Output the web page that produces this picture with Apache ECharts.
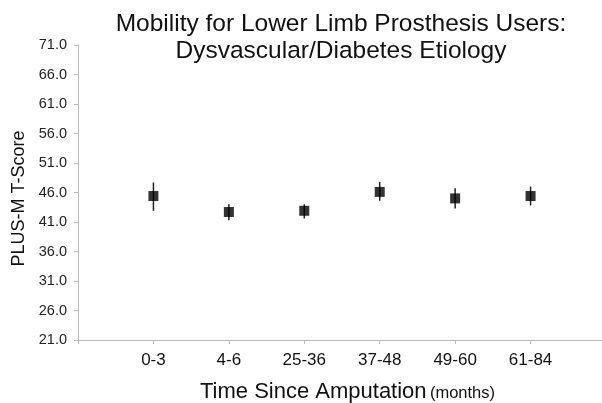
<!DOCTYPE html>
<html lang="en">
<head>
    <meta charset="UTF-8">
    <title>PLUS-M Mobility</title>
    <script src="https://cdn.jsdelivr.net/npm/echarts@6/dist/echarts.min.js"></script>
    <style>
        html, body { margin: 0; padding: 0; background: #fff; }
    </style>
</head>
<body>
<div id="chart1" style="width: 602px;height:403px;"></div>
<script type="text/javascript">
    // time since amputation groups (months)
    var categories = ['0-3', '4-6', '25-36', '37-48', '49-60', '61-84'];
    // mean T-scores and error bar ends
    var means = [45.4, 42.7, 42.9, 46.1, 45.0, 45.4];
    var lows = [42.9, 41.3, 41.6, 44.6, 43.3, 43.8];
    var highs = [47.7, 44.0, 44.0, 47.8, 46.7, 47.0];

    var font = 'Liberation Sans, Arial, sans-serif';
    var chart1 = echarts.init(document.getElementById('chart1'));

    var pointData = [];
    var barData = [];
    for (var i = 0; i < categories.length; i++) {
        pointData.push([i + 1, means[i]]);
        barData.push([i + 1, lows[i], highs[i]]);
    }

    option = {
        backgroundColor: '#fff',
        animation: false,
        title: {
            text: 'Mobility for Lower Limb Prosthesis Users:\nDysvascular/Diabetes Etiology',
            left: 336,
            top: 6,
            textAlign: 'center',
            textStyle: {
                fontFamily: font,
                fontSize: 24.5,
                fontWeight: 'normal',
                color: '#111',
                lineHeight: 27
            }
        },
        grid: {
            left: 78,
            top: 45,
            width: 528,
            height: 295,
            outerBoundsMode: 'none'
        },
        xAxis: {
            type: 'value',
            min: 0,
            max: 7,
            interval: 1,
            splitLine: { show: false },
            axisLine: { lineStyle: { color: '#bbb', width: 1 } },
            axisTick: { length: 4, lineStyle: { color: '#bbb' } },
            axisLabel: {
                margin: 12,
                fontFamily: font,
                fontSize: 17,
                color: '#111',
                formatter: function (v) {
                    return categories[v - 1] || '';
                }
            },
            name: '{a|Time Since Amputation} {b|(months)}',
            nameLocation: 'middle',
            nameGap: 41,
            nameTextStyle: {
                padding: [0, 0, 0, 11],
                rich: {
                    a: { fontFamily: font, fontSize: 22, color: '#111' },
                    b: { fontFamily: font, fontSize: 16.5, color: '#111', padding: [3, 0, 0, 0] }
                }
            }
        },
        yAxis: {
            type: 'value',
            min: 21,
            max: 71,
            interval: 5,
            splitLine: { show: false },
            axisLine: { show: true, lineStyle: { color: '#bbb', width: 1 } },
            axisTick: { show: true, length: 4, lineStyle: { color: '#bbb' } },
            axisLabel: {
                margin: 11,
                fontFamily: font,
                fontSize: 14.5,
                color: '#222',
                formatter: function (v) { return v.toFixed(1); }
            },
            name: 'PLUS-M T-Score',
            nameLocation: 'middle',
            nameGap: 40,
            nameTextStyle: {
                fontFamily: font,
                fontSize: 18,
                color: '#111',
                padding: [0, 12, 0, 0]
            }
        },
        series: [{
            type: 'custom',
            data: barData,
            renderItem: function (params, api) {
                var lo = api.coord([api.value(0), api.value(1)]);
                var hi = api.coord([api.value(0), api.value(2)]);
                return {
                    type: 'line',
                    shape: { x1: lo[0], y1: lo[1], x2: hi[0], y2: hi[1] },
                    style: { stroke: '#222', lineWidth: 1.5 }
                };
            },
            z: 1
        }, {
            type: 'scatter',
            data: pointData,
            symbol: 'rect',
            symbolSize: 10,
            itemStyle: { color: '#000' },
            z: 2
        }]
    };
    chart1.setOption(option);
</script>
</body>
</html>
